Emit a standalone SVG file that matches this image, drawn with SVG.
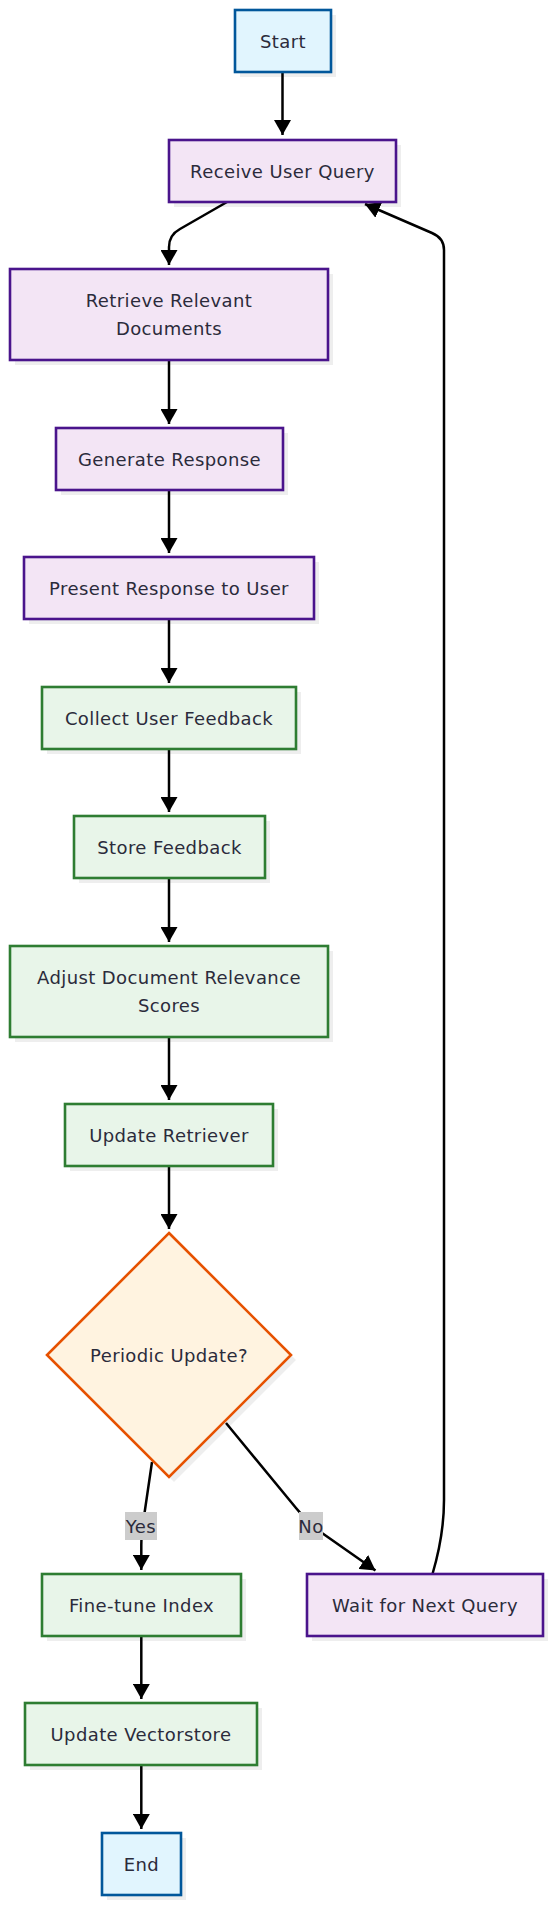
<svg xmlns="http://www.w3.org/2000/svg" width="556" height="1920" viewBox="0 0 556 1920">
<defs>
<style>
.t{font-family:"DejaVu Sans","Noto Sans",sans-serif;font-size:18px;letter-spacing:0.4px;fill:#2b2b3b;text-anchor:middle;dominant-baseline:central}
.sh{fill:#000;fill-opacity:0.065}
.term{fill:#e1f5fe;stroke:#01579b;stroke-width:2.6}
.pur{fill:#f3e5f5;stroke:#4a148c;stroke-width:2.6}
.grn{fill:#e8f5e9;stroke:#2e7d32;stroke-width:2.6}
.dec{fill:#fff3e0;stroke:#e65100;stroke-width:2.6}
.e{fill:none;stroke:#000;stroke-width:2.5;marker-end:url(#arr)}
.lb{fill:#cccccc}
</style>
<marker id="arr" markerUnits="userSpaceOnUse" markerWidth="15" markerHeight="17" viewBox="0 0 15 17" refX="15" refY="8.5" orient="auto">
<path d="M0,0 L15,8.5 L0,17 z" fill="#000"/>
</marker>
</defs>
<rect width="556" height="1920" fill="#fff"/>

<g id="connectors">
<path class="e" d="M282.5,73 L282.5,135"/>
<path class="e" d="M227,202 L180,229 Q169,235 169,247 L169,265"/>
<path class="e" d="M169,360 L169,424"/>
<path class="e" d="M169,490 L169,553"/>
<path class="e" d="M169,620 L169,683"/>
<path class="e" d="M169,749 L169,812"/>
<path class="e" d="M169,879 L169,942"/>
<path class="e" d="M169,1037 L169,1100"/>
<path class="e" d="M169,1167 L169,1229"/>
<path class="e" d="M152,1462 L143.5,1520 Q141.3,1535 141.3,1545 L141.3,1570"/>
<path class="e" d="M226,1423 L296,1508 Q306,1521 322,1533 L375.5,1570.5"/>
<path class="e" d="M432.5,1574 Q444,1535 444,1500 L444,250 Q444,238 432,233 L365,204"/>
<path class="e" d="M141.3,1636 L141.3,1699"/>
<path class="e" d="M141.3,1765 L141.3,1829"/>
<g id="label-yes">
<rect class="lb" x="125" y="1512" width="32" height="28"/>
<text class="t" x="141" y="1526">Yes</text>
</g>
<g id="label-no">
<rect class="lb" x="299" y="1512" width="24" height="28"/>
<text class="t" x="311" y="1526">No</text>
</g>
</g>

<g id="start">
<rect class="sh" x="240" y="15" width="96" height="62"/>
<rect class="term" x="235" y="10" width="96" height="62"/>
<text class="t" x="283" y="41">Start</text>
</g>
<g id="receive">
<rect class="sh" x="174" y="145" width="227" height="62"/>
<rect class="pur" x="169" y="140" width="227" height="62"/>
<text class="t" x="282.5" y="171">Receive User Query</text>
</g>
<g id="retrieve">
<rect class="sh" x="15" y="274" width="318" height="91"/>
<rect class="pur" x="10" y="269" width="318" height="91"/>
<text class="t" x="169" y="300.5">Retrieve Relevant</text>
<text class="t" x="169" y="328.5">Documents</text>
</g>
<g id="generate">
<rect class="sh" x="61" y="433" width="227" height="62"/>
<rect class="pur" x="56" y="428" width="227" height="62"/>
<text class="t" x="169.5" y="459">Generate Response</text>
</g>
<g id="present">
<rect class="sh" x="29" y="562" width="290" height="62"/>
<rect class="pur" x="24" y="557" width="290" height="62"/>
<text class="t" x="169" y="588">Present Response to User</text>
</g>
<g id="collect">
<rect class="sh" x="47" y="692" width="254" height="62"/>
<rect class="grn" x="42" y="687" width="254" height="62"/>
<text class="t" x="169" y="718">Collect User Feedback</text>
</g>
<g id="store">
<rect class="sh" x="79" y="821" width="191" height="62"/>
<rect class="grn" x="74" y="816" width="191" height="62"/>
<text class="t" x="169.5" y="847">Store Feedback</text>
</g>
<g id="adjust">
<rect class="sh" x="15" y="951" width="318" height="91"/>
<rect class="grn" x="10" y="946" width="318" height="91"/>
<text class="t" x="169" y="977">Adjust Document Relevance</text>
<text class="t" x="169" y="1005">Scores</text>
</g>
<g id="update-retriever">
<rect class="sh" x="70" y="1109" width="208" height="62"/>
<rect class="grn" x="65" y="1104" width="208" height="62"/>
<text class="t" x="169" y="1135">Update Retriever</text>
</g>
<g id="periodic">
<polygon class="sh" points="174,1238 296,1360 174,1482 52,1360"/>
<polygon class="dec" points="169,1233 291,1355 169,1477 47,1355"/>
<text class="t" x="169" y="1355">Periodic Update?</text>
</g>
<g id="finetune">
<rect class="sh" x="47" y="1579" width="199" height="62"/>
<rect class="grn" x="42" y="1574" width="199" height="62"/>
<text class="t" x="141.5" y="1605">Fine-tune Index</text>
</g>
<g id="wait">
<rect class="sh" x="312" y="1579" width="236" height="62"/>
<rect class="pur" x="307" y="1574" width="236" height="62"/>
<text class="t" x="425" y="1605">Wait for Next Query</text>
</g>
<g id="vectorstore">
<rect class="sh" x="30" y="1708" width="232" height="62"/>
<rect class="grn" x="25" y="1703" width="232" height="62"/>
<text class="t" x="141" y="1734">Update Vectorstore</text>
</g>
<g id="end">
<rect class="sh" x="107" y="1838" width="79" height="62"/>
<rect class="term" x="102" y="1833" width="79" height="62"/>
<text class="t" x="141.5" y="1864">End</text>
</g>
</svg>
